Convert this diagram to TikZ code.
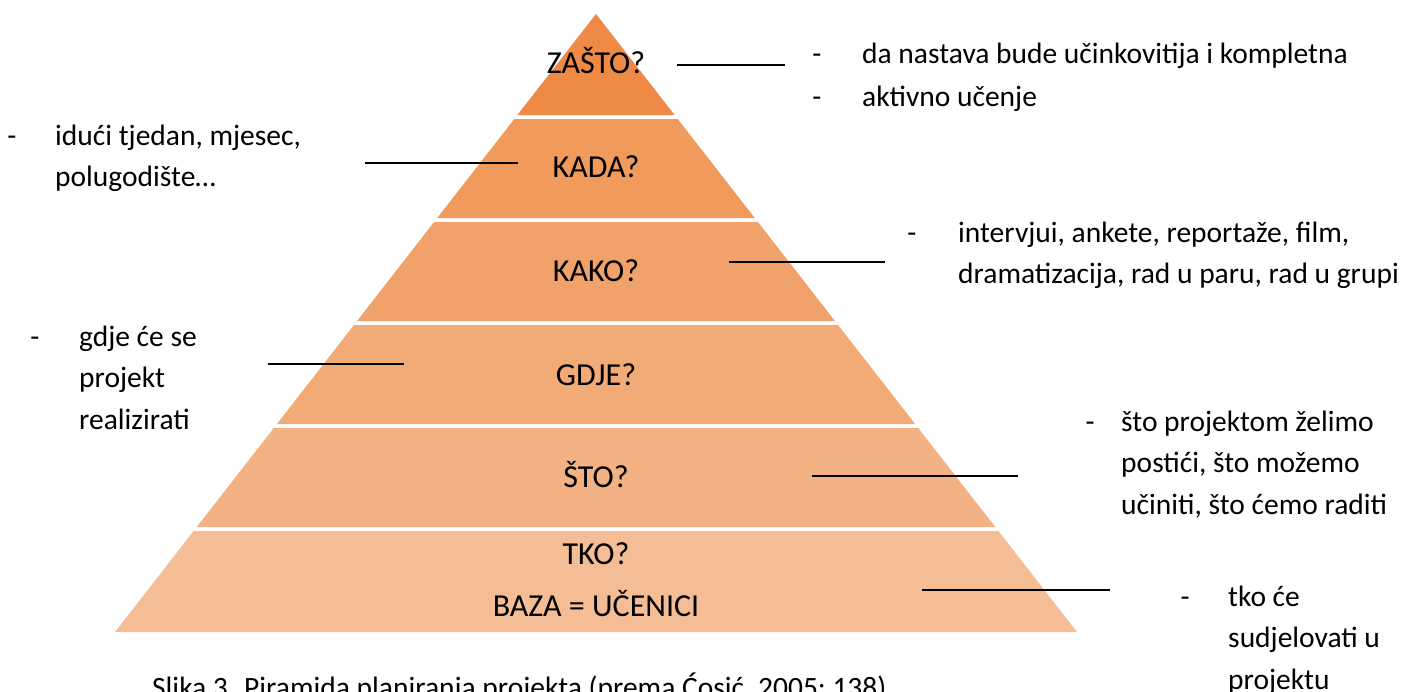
\documentclass[tikz,border=0pt]{standalone}
\usepackage{fontspec}
\setmainfont{Carlito}
\definecolor{band1}{RGB}{238, 138, 69}
\definecolor{band2}{RGB}{240, 154, 92}
\definecolor{band3}{RGB}{241, 162, 106}
\definecolor{band4}{RGB}{242, 170, 119}
\definecolor{band5}{RGB}{243, 178, 131}
\definecolor{band6}{RGB}{245, 189, 150}
\usetikzlibrary{positioning}

\begin{document}
\begin{tikzpicture}[x=1pt, y=-1pt,
  every node/.style={font=\fontsize{29.5}{41.5}\selectfont, inner sep=0pt},
  level/.style={anchor=base, font=\fontsize{32}{41.5}\selectfont},
  dashmark/.style={anchor=base},
  item/.style={anchor=base west, align=left},
  lead/.style={line width=2pt, black}]
  \useasboundingbox (0,0) rectangle (1418,691);

  % Pyramid bands
  \foreach \i/\col in {0/band1, 1/band2, 2/band3, 3/band4, 4/band5, 5/band6} {
    \pgfmathsetmacro\ytop{14+103*\i+(\i>0 ? 2 : 0)}
    \pgfmathsetmacro\ybot{117+103*\i-(\i<5 ? 2 : 0)}
    \pgfmathsetmacro\wtop{(\ytop-14)*0.77832}
    \pgfmathsetmacro\wbot{(\ybot-14)*0.77832}
    \fill[\col] (596-\wtop,\ytop) -- (596+\wtop,\ytop) -- (596+\wbot,\ybot) -- (596-\wbot,\ybot) -- cycle;
  }

  % Levels
  \node[level] (zasto) at (596,73) {ZAŠTO?};
  \node[level] (kada) at (596,177) {KADA?};
  \node[level] (kako) at (596,281) {KAKO?};
  \node[level] (gdje) at (596,385) {GDJE?};
  \node[level] (sto) at (596,487) {ŠTO?};
  \node[level] (tko) at (596,564) {TKO?};
  \node[level] (baza) at (596,616) {BAZA = UČENICI};

  % Zašto
  \coordinate (zasto-a) at (677,65);
  \coordinate (zasto-b) at (785,65);
  \draw[lead] (zasto-a) -- (zasto-b);
  \node[dashmark] (zasto-d1) at (817,63) {-};
  \node[item] (zasto-t1) at (862,63) {da nastava bude učinkovitija i kompletna};
  \node[dashmark] (zasto-d2) at (817,106) {-};
  \node[item] (zasto-t2) at (862,106) {aktivno učenje};

  % Kada (base = last line)
  \coordinate (kada-a) at (365,163);
  \coordinate (kada-b) at (518,163);
  \draw[lead] (kada-a) -- (kada-b);
  \node[dashmark] (kada-d) at (12,145) {-};
  \node[item] (kada-t) at (55,186.5) {idući tjedan, mjesec,\\polugodište…};

  % Kako
  \coordinate (kako-a) at (729,262);
  \coordinate (kako-b) at (885,262);
  \draw[lead] (kako-a) -- (kako-b);
  \node[dashmark] (kako-d) at (912,242) {-};
  \node[item] (kako-t) at (958,283.5) {intervjui, ankete, reportaže, film,\\dramatizacija, rad u paru, rad u grupi};

  % Gdje
  \coordinate (gdje-a) at (268,364);
  \coordinate (gdje-b) at (404,364);
  \draw[lead] (gdje-a) -- (gdje-b);
  \node[dashmark] (gdje-d) at (35,346) {-};
  \node[item] (gdje-t) at (79,429) {gdje će se\\projekt\\realizirati};

  % Što
  \coordinate (sto-a) at (812,476);
  \coordinate (sto-b) at (1018,476);
  \draw[lead] (sto-a) -- (sto-b);
  \node[dashmark] (sto-d) at (1090,431) {-};
  \node[item] (sto-t) at (1121,514) {što projektom želimo\\postići, što možemo\\učiniti, što ćemo raditi};

  % Tko
  \coordinate (tko-a) at (922,590);
  \coordinate (tko-b) at (1110,590);
  \draw[lead] (tko-a) -- (tko-b);
  \node[dashmark] (tko-d) at (1185,606) {-};
  \node[item] (tko-t) at (1228,689) {tko će\\sudjelovati u\\projektu};

  % Caption
  \node[anchor=base west] (caption) at (152,697) {Slika 3. Piramida planiranja projekta (prema Ćosić, 2005; 138)};
\end{tikzpicture}
\end{document}
